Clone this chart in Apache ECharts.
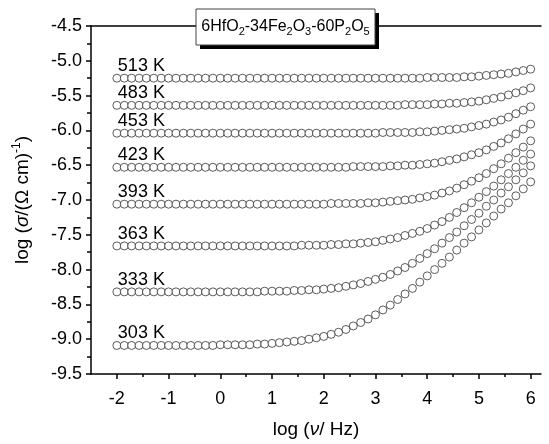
<!DOCTYPE html>
<html><head><meta charset="utf-8">
<script src="https://cdn.jsdelivr.net/npm/echarts@6/dist/echarts.min.js"></script>
<style>html,body{margin:0;padding:0;background:#fff}#c{width:549px;height:444px}</style>
</head><body><div id="c"></div>
<script>
// log10 of frequency (Hz), 7 points per decade
const logFreq = [-2, -1.857, -1.714, -1.571, -1.429, -1.286, -1.143,
  -1, -0.857, -0.714, -0.571, -0.429, -0.286, -0.143,
  0, 0.143, 0.286, 0.429, 0.571, 0.714, 0.857,
  1, 1.143, 1.286, 1.429, 1.571, 1.714, 1.857,
  2, 2.143, 2.286, 2.429, 2.571, 2.714, 2.857,
  3, 3.143, 3.286, 3.429, 3.571, 3.714, 3.857,
  4, 4.143, 4.286, 4.429, 4.571, 4.714, 4.857,
  5, 5.143, 5.286, 5.429, 5.571, 5.714, 5.857,
  6];

const tempLabels = ['513 K', '483 K', '453 K', '423 K', '393 K', '363 K', '333 K', '303 K'];

const sigma513 = [-5.25,-5.25,-5.25,-5.25,-5.25,-5.25,-5.25,
  -5.25,-5.25,-5.25,-5.25,-5.25,-5.25,-5.25,
  -5.25,-5.25,-5.25,-5.25,-5.25,-5.25,-5.25,
  -5.25,-5.25,-5.25,-5.25,-5.25,-5.25,-5.25,
  -5.25,-5.25,-5.25,-5.25,-5.25,-5.25,-5.25,
  -5.25,-5.25,-5.25,-5.25,-5.25,-5.25,-5.25,
  -5.24,-5.24,-5.24,-5.24,-5.24,-5.23,-5.23,
  -5.22,-5.21,-5.20,-5.19,-5.18,-5.16,-5.14,
  -5.12];
const sigma483 = [-5.64,-5.64,-5.64,-5.64,-5.64,-5.64,-5.64,
  -5.64,-5.64,-5.64,-5.64,-5.64,-5.64,-5.64,
  -5.64,-5.64,-5.64,-5.64,-5.64,-5.64,-5.64,
  -5.64,-5.64,-5.64,-5.64,-5.64,-5.64,-5.64,
  -5.64,-5.64,-5.64,-5.64,-5.64,-5.64,-5.64,
  -5.64,-5.64,-5.64,-5.64,-5.63,-5.63,-5.63,
  -5.63,-5.62,-5.62,-5.61,-5.61,-5.60,-5.59,
  -5.58,-5.56,-5.54,-5.52,-5.49,-5.46,-5.43,
  -5.39];
const sigma453 = [-6.04,-6.04,-6.04,-6.04,-6.04,-6.04,-6.04,
  -6.04,-6.04,-6.04,-6.04,-6.04,-6.04,-6.04,
  -6.04,-6.04,-6.04,-6.04,-6.04,-6.04,-6.04,
  -6.04,-6.04,-6.04,-6.04,-6.04,-6.04,-6.04,
  -6.04,-6.04,-6.04,-6.04,-6.04,-6.04,-6.04,
  -6.04,-6.03,-6.03,-6.03,-6.03,-6.03,-6.02,
  -6.02,-6.01,-6.00,-5.99,-5.98,-5.97,-5.95,
  -5.93,-5.91,-5.88,-5.85,-5.81,-5.76,-5.71,
  -5.66];
const sigma423 = [-6.53,-6.53,-6.53,-6.53,-6.53,-6.53,-6.53,
  -6.53,-6.53,-6.53,-6.53,-6.53,-6.53,-6.53,
  -6.53,-6.53,-6.53,-6.53,-6.53,-6.53,-6.53,
  -6.53,-6.53,-6.53,-6.53,-6.53,-6.53,-6.53,
  -6.53,-6.53,-6.53,-6.53,-6.52,-6.52,-6.52,
  -6.52,-6.52,-6.51,-6.51,-6.50,-6.50,-6.49,
  -6.48,-6.47,-6.45,-6.43,-6.41,-6.38,-6.35,
  -6.32,-6.28,-6.23,-6.18,-6.12,-6.05,-5.98,
  -5.91];
const sigma393 = [-7.06,-7.06,-7.06,-7.06,-7.06,-7.06,-7.06,
  -7.06,-7.06,-7.06,-7.06,-7.06,-7.06,-7.06,
  -7.06,-7.06,-7.06,-7.06,-7.06,-7.06,-7.06,
  -7.06,-7.06,-7.06,-7.06,-7.06,-7.06,-7.06,
  -7.06,-7.05,-7.05,-7.05,-7.05,-7.05,-7.04,
  -7.04,-7.03,-7.02,-7.01,-7.00,-6.99,-6.97,
  -6.95,-6.93,-6.90,-6.87,-6.83,-6.78,-6.73,
  -6.68,-6.62,-6.55,-6.48,-6.40,-6.32,-6.24,
  -6.15];
const sigma363 = [-7.66,-7.66,-7.66,-7.66,-7.66,-7.66,-7.66,
  -7.66,-7.66,-7.66,-7.66,-7.66,-7.66,-7.66,
  -7.66,-7.66,-7.66,-7.66,-7.66,-7.66,-7.66,
  -7.66,-7.66,-7.66,-7.66,-7.65,-7.65,-7.65,
  -7.65,-7.64,-7.64,-7.63,-7.63,-7.62,-7.61,
  -7.60,-7.58,-7.56,-7.54,-7.51,-7.48,-7.45,
  -7.41,-7.36,-7.31,-7.25,-7.18,-7.11,-7.04,
  -6.96,-6.88,-6.80,-6.71,-6.62,-6.53,-6.43,
  -6.34];
const sigma333 = [-8.32,-8.32,-8.32,-8.32,-8.32,-8.32,-8.32,
  -8.32,-8.32,-8.32,-8.32,-8.32,-8.32,-8.32,
  -8.32,-8.32,-8.32,-8.32,-8.32,-8.32,-8.31,
  -8.31,-8.31,-8.31,-8.30,-8.30,-8.29,-8.29,
  -8.28,-8.27,-8.26,-8.24,-8.22,-8.20,-8.17,
  -8.14,-8.11,-8.07,-8.02,-7.97,-7.91,-7.84,
  -7.77,-7.70,-7.62,-7.54,-7.46,-7.37,-7.28,
  -7.19,-7.09,-7.00,-6.90,-6.81,-6.71,-6.61,
  -6.51];
const sigma303 = [-9.09,-9.09,-9.09,-9.09,-9.09,-9.09,-9.09,
  -9.09,-9.09,-9.09,-9.09,-9.09,-9.09,-9.09,
  -9.08,-9.08,-9.08,-9.08,-9.08,-9.07,-9.07,
  -9.06,-9.05,-9.04,-9.03,-9.02,-9.00,-8.98,
  -8.96,-8.93,-8.90,-8.86,-8.81,-8.76,-8.71,
  -8.65,-8.58,-8.51,-8.43,-8.35,-8.27,-8.18,
  -8.09,-8.00,-7.91,-7.82,-7.72,-7.62,-7.53,
  -7.43,-7.33,-7.23,-7.13,-7.04,-6.94,-6.84,
  -6.74];

const seriesValues = [sigma513, sigma483, sigma453, sigma423, sigma393, sigma363, sigma333, sigma303];

const xMajorTicks = [-2, -1, 0, 1, 2, 3, 4, 5, 6];
const xMinorTicks = [-1.5, -0.5, 0.5, 1.5, 2.5, 3.5, 4.5, 5.5];

const FONT = "'Liberation Sans', Arial, sans-serif";
const AX = { color: '#000', width: 1.5 };
const X_MIN = -2.5, X_MAX = 6.2;

const chart = echarts.init(document.getElementById('c'), null, { renderer: 'canvas' });

const series = seriesValues.map((vals, k) => ({
  type: 'scatter',
  name: tempLabels[k],
  xAxisIndex: 0,
  yAxisIndex: 0,
  symbol: 'circle',
  symbolSize: 8,
  silent: true,
  itemStyle: { color: '#fff', borderColor: '#333', borderWidth: 1 },
  data: logFreq.map((x, i) => [x, vals[i]])
}));

chart.setOption({
  animation: false,
  backgroundColor: '#fff',
  grid: { left: 91, right: 8, top: 26, bottom: 64, containLabel: false },
  xAxis: [
    {
      type: 'value', min: X_MIN, max: X_MAX, position: 'bottom',
      axisLine: { show: true, onZero: false, lineStyle: AX },
      axisTick: { show: true, customValues: xMajorTicks, length: 5, lineStyle: AX },
      axisLabel: { show: true, customValues: xMajorTicks, color: '#000', fontSize: 18, fontFamily: FONT, margin: 16 },
      splitLine: { show: false },
      name: '{n|log (}{i|\u03bd}{n|/ Hz)}',
      nameLocation: 'middle', nameGap: 46,
      nameTextStyle: {
        color: '#000', fontSize: 19, fontFamily: FONT,
        rich: {
          n: { fontSize: 19, fontFamily: FONT, color: '#000' },
          i: { fontSize: 19, fontFamily: FONT, fontStyle: 'italic', color: '#000' }
        }
      }
    },
    {
      type: 'value', min: X_MIN, max: X_MAX, position: 'bottom',
      axisLine: { show: false, onZero: false },
      axisTick: { show: true, customValues: xMinorTicks, length: 3, lineStyle: AX },
      axisLabel: { show: false },
      splitLine: { show: false }
    },
    {
      type: 'value', min: X_MIN, max: X_MAX, position: 'top',
      axisLine: { show: true, onZero: false, lineStyle: AX },
      axisTick: { show: false }, axisLabel: { show: false }, splitLine: { show: false }
    }
  ],
  yAxis: [
    {
      type: 'value', min: -9.5, max: -4.5, interval: 0.5, position: 'left',
      axisLine: { show: true, onZero: false, lineStyle: AX },
      axisTick: { show: true, length: 5, lineStyle: AX },
      minorTick: { show: true, splitNumber: 2, length: 4, lineStyle: AX },
      axisLabel: { color: '#000', fontSize: 18, fontFamily: FONT, margin: 9, formatter: v => v.toFixed(1) },
      splitLine: { show: false },
      name: '{n|log (}{i|\u03c3}{n|/(\u03a9 cm)}{s|-1}{n|)}',
      nameLocation: 'middle', nameGap: 56, nameRotate: 90,
      nameTextStyle: {
        color: '#000', fontSize: 19, fontFamily: FONT,
        rich: {
          n: { fontSize: 19, fontFamily: FONT, color: '#000', lineHeight: 24 },
          i: { fontSize: 19, fontFamily: FONT, fontStyle: 'italic', color: '#000', lineHeight: 24 },
          s: { fontSize: 12, fontFamily: FONT, color: '#000', lineHeight: 12, verticalAlign: 'top' }
        }
      }
    }
  ],
  series: series
});

// title box + temperature labels, positioned through the chart's own scales
const graphics = [
  { id: 'shadow', type: 'rect', shape: { x: 200, y: 13, width: 179, height: 36 }, style: { fill: '#000' }, z: 100 },
  { id: 'box', type: 'rect', shape: { x: 196, y: 9, width: 179, height: 36 }, style: { fill: '#fff', stroke: '#444', lineWidth: 1 }, z: 101 },
  { id: 'title', type: 'text', x: 285.5, y: 27, z: 102,
    style: {
      text: '{n|6HfO}{s|2}{n|-34Fe}{s|2}{n|O}{s|3}{n|-60P}{s|2}{n|O}{s|5}',
      align: 'center', verticalAlign: 'middle',
      rich: {
        n: { fontSize: 16, fontFamily: FONT, fill: '#000', lineHeight: 20 },
        s: { fontSize: 11, fontFamily: FONT, fill: '#000', lineHeight: 11, verticalAlign: 'bottom' }
      }
    }
  }
];
seriesValues.forEach((vals, k) => {
  const p = chart.convertToPixel({ xAxisIndex: 0, yAxisIndex: 0 }, [logFreq[0], vals[0]]);
  graphics.push({
    id: 'lab' + k, type: 'text', x: p[0] + 1, y: p[1] - 12, z: 50,
    style: { text: tempLabels[k], fontSize: 18, fontFamily: FONT, fill: '#000', align: 'left', verticalAlign: 'middle' }
  });
});
chart.setOption({ graphic: graphics });
</script>
</body></html>
